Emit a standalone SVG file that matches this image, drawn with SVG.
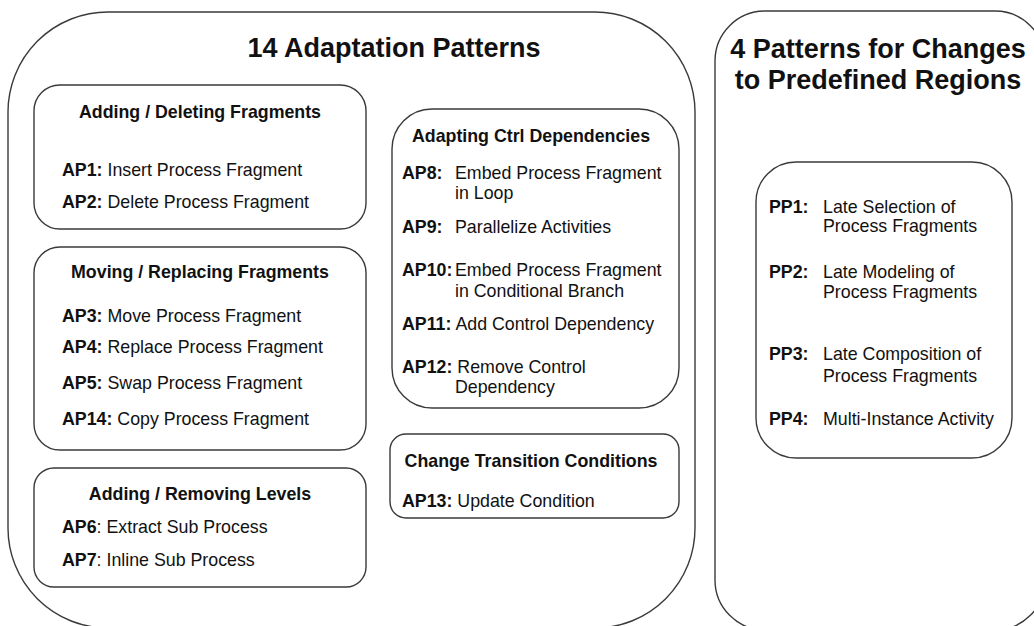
<svg xmlns="http://www.w3.org/2000/svg" width="1034" height="626" viewBox="0 0 1034 626">
<style>
text{font-family:"Liberation Sans",Arial,sans-serif;fill:#111;}
.box{fill:none;stroke:#3a3a3a;stroke-width:1.4;}
.h1{font-size:27px;font-weight:bold;text-anchor:middle;}
.h2{font-size:17.8px;font-weight:bold;text-anchor:middle;}
.it{font-size:17.8px;}
.b{font-weight:bold;}
</style>
<rect width="1034" height="626" fill="#ffffff"/>
<g id="adaptation-patterns">
<rect class="box" x="8" y="12" width="687" height="616" rx="100" ry="100"/>
<text class="h1" x="394" y="57">14 Adaptation Patterns</text>
</g>
<g id="adding-deleting">
<rect class="box" x="34" y="85" width="332" height="144" rx="26" ry="26"/>
<text class="h2" x="200" y="118">Adding / Deleting Fragments</text>
<text class="it" x="62" y="176"><tspan class="b">AP1:</tspan> Insert Process Fragment</text>
<text class="it" x="62" y="208"><tspan class="b">AP2:</tspan> Delete Process Fragment</text>
</g>
<g id="moving-replacing">
<rect class="box" x="34" y="247" width="332" height="203" rx="26" ry="26"/>
<text class="h2" x="200" y="278">Moving / Replacing Fragments</text>
<text class="it" x="62" y="322"><tspan class="b">AP3:</tspan> Move Process Fragment</text>
<text class="it" x="62" y="353"><tspan class="b">AP4:</tspan> Replace Process Fragment</text>
<text class="it" x="62" y="389"><tspan class="b">AP5:</tspan> Swap Process Fragment</text>
<text class="it" x="62" y="425"><tspan class="b">AP14:</tspan> Copy Process Fragment</text>
</g>
<g id="adding-removing-levels">
<rect class="box" x="34" y="468" width="332" height="119" rx="20" ry="20"/>
<text class="h2" x="200" y="500">Adding / Removing Levels</text>
<text class="it" x="62" y="533"><tspan class="b">AP6</tspan>: Extract Sub Process</text>
<text class="it" x="62" y="566"><tspan class="b">AP7</tspan>: Inline Sub Process</text>
</g>
<g id="adapting-ctrl">
<rect class="box" x="392" y="109" width="287" height="299" rx="40" ry="40"/>
<text class="h2" x="531" y="142">Adapting Ctrl Dependencies</text>
<text class="it b" x="402" y="179">AP8:</text>
<text class="it" x="455" y="179">Embed Process Fragment</text>
<text class="it" x="455" y="199">in Loop</text>
<text class="it b" x="402" y="233">AP9:</text>
<text class="it" x="455" y="233">Parallelize Activities</text>
<text class="it b" x="402" y="276">AP10:</text>
<text class="it" x="455" y="276">Embed Process Fragment</text>
<text class="it" x="455" y="297">in Conditional Branch</text>
<text class="it" x="402" y="330"><tspan class="b">AP11:</tspan> Add Control Dependency</text>
<text class="it" x="402" y="373"><tspan class="b">AP12:</tspan> Remove Control</text>
<text class="it" x="455" y="393">Dependency</text>
</g>
<g id="change-transition">
<rect class="box" x="390" y="434" width="289" height="84" rx="16" ry="16"/>
<text class="h2" x="531" y="467">Change Transition Conditions</text>
<text class="it" x="402" y="507"><tspan class="b">AP13:</tspan> Update Condition</text>
</g>
<g id="predefined-regions">
<rect class="box" x="715" y="11" width="330" height="619" rx="50" ry="50"/>
<text class="h1" x="878" y="58">4 Patterns for Changes</text>
<text class="h1" x="878" y="89">to Predefined Regions</text>
</g>
<g id="pp-list">
<rect class="box" x="756" y="162" width="256" height="296" rx="40" ry="40"/>
<text class="it b" x="769" y="213">PP1:</text>
<text class="it" x="823" y="213">Late Selection of</text>
<text class="it" x="823" y="232">Process Fragments</text>
<text class="it b" x="769" y="278">PP2:</text>
<text class="it" x="823" y="278">Late Modeling of</text>
<text class="it" x="823" y="298">Process Fragments</text>
<text class="it b" x="769" y="360">PP3:</text>
<text class="it" x="823" y="360">Late Composition of</text>
<text class="it" x="823" y="382">Process Fragments</text>
<text class="it b" x="769" y="425">PP4:</text>
<text class="it" x="823" y="425">Multi-Instance Activity</text>
</g>
<g id="connectors"></g>
</svg>
